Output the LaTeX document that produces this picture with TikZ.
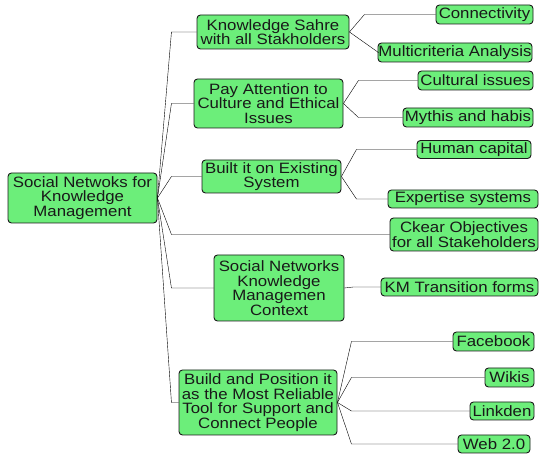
\documentclass[tikz,border=0pt]{standalone}
\usepackage{fontspec}
\setmainfont{Liberation Sans}[FakeStretch=1.12]
\usetikzlibrary{calc}
\definecolor{boxgreen}{RGB}{108,238,122}
\definecolor{inkgray}{RGB}{25,25,25}
\begin{document}
\begin{tikzpicture}[x=1pt,y=-1pt,
  box/.style={draw=inkgray, fill=boxgreen, rounded corners=3.5pt, line width=0.9pt,
    inner sep=0pt, align=center, text=inkgray,
    font=\fontsize{15}{14.6}\selectfont},
  link/.style={draw=inkgray, line width=0.9pt,
    to path={-- ($(\tikztostart |- \tikztotarget)+(#1,0)$) -- (\tikztotarget)}},
  link/.default=14]
\useasboundingbox (0,0) rectangle (539,454);

% root
\node[box, minimum width=149pt, minimum height=50pt] (root) at (82.5,198)
  {Social Netwoks for\\Knowledge\\Management};

% first level
\node[box, minimum width=152pt, minimum height=34pt] (k1) at (273,32)
  {Knowledge Sahre\\with all Stakholders};
\node[box, minimum width=149pt, minimum height=49pt] (k2) at (268.5,103.5)
  {Pay Attention to\\Culture and Ethical\\Issues};
\node[box, minimum width=139pt, minimum height=33pt] (k3) at (271.5,176.5)
  {Built it on Existing\\System};
\node[box, minimum width=148pt, minimum height=33pt] (k4) at (464,234.5)
  {Ckear Objectives\\for all Stakeholders};
\node[box, minimum width=130pt, minimum height=66pt] (k5) at (279,288)
  {Social Networks\\Knowledge\\Managemen\\Context};
\node[box, minimum width=158pt, minimum height=65pt] (k6) at (258,402.5)
  {Build and Position it\\as the Most Reliable\\Tool for Support and\\Connect People};

% second level
\node[box, minimum width=97pt, minimum height=19pt] (l11) at (484.5,14.5) {Connectivity};
\node[box, minimum width=154pt, minimum height=19pt] (l12) at (455,52.5) {Multicriteria Analysis};
\node[box, minimum width=115pt, minimum height=19pt] (l21) at (475.5,80.5) {Cultural issues};
\node[box, minimum width=130pt, minimum height=19pt] (l22) at (468,117.5) {Mythis and habis};
\node[box, minimum width=114pt, minimum height=18pt] (l31) at (474,149.5) {Human capital};
\node[box, minimum width=150pt, minimum height=18pt] (l32) at (463,199) {Expertise systems};
\node[box, minimum width=157pt, minimum height=18pt] (l51) at (459.5,287) {KM Transition forms};
\node[box, minimum width=81pt, minimum height=19pt] (l61) at (493.5,341.5) {Facebook};
\node[box, minimum width=49pt, minimum height=19pt] (l62) at (509.5,377.5) {Wikis};
\node[box, minimum width=64pt, minimum height=18pt] (l63) at (502,411) {Linkden};
\node[box, minimum width=72pt, minimum height=18pt] (l64) at (494,444) {Web 2.0};

% connectors from the root
\foreach \k in {k1,k2,k3,k4,k5,k6}
  \draw (root.east) to[link] (\k.west);

% connectors to the second level
\draw (k1.east) to[link=15] (l11.west);
\draw (k1.east) to[link=29] (l12.west);
\draw (k2.east) to[link=15] (l21.west);
\draw (k2.east) to[link=15] (l22.west);
\draw (k3.east) to[link=15] (l31.west);
\draw (k3.east) to[link=15] (l32.west);
\draw (k5.east) to[link=9] (l51.west);
\foreach \l in {l61,l62,l63,l64}
  \draw (k6.east) to[link] (\l.west);
\end{tikzpicture}
\end{document}
